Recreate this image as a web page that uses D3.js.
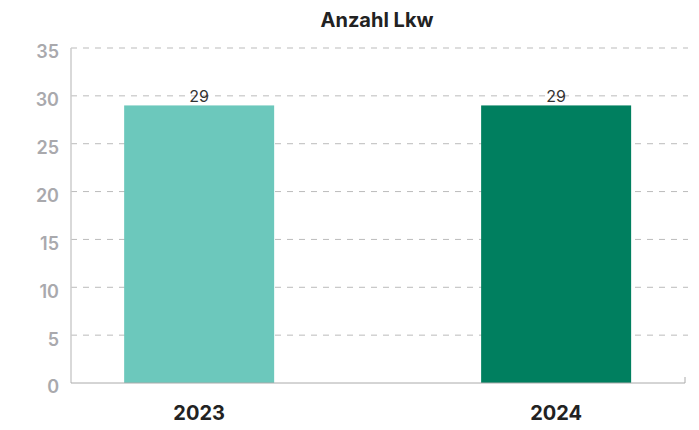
<!DOCTYPE html>
<meta charset="utf-8">
<style>
  body { margin: 0; background: #fff; }
  text { font-family: Inter, "Noto Sans", sans-serif; }
</style>
<body>
<div id="chart"></div>
<script src="https://d3js.org/d3.v7.min.js"></script>
<script>

// data
var years = ["2023", "2024"];
var trucks = [29, 29];
var barColors = ["#6cc8bc", "#007f5f"];
var yTicks = [0, 5, 10, 15, 20, 25, 30, 35];

var W = 699, H = 430;
var margin = {top: 48, right: 14, bottom: 47, left: 71};
var width = W - margin.left - margin.right,
    height = H - margin.top - margin.bottom;

var svg = d3.select("#chart")
  .append("svg")
    .attr("width", W)
    .attr("height", H);

var g = svg.append("g")
    .attr("transform", "translate(" + margin.left + "," + margin.top + ")");

// title
svg.append("text")
  .attr("x", 377)
  .attr("y", 27)
  .attr("text-anchor", "middle")
  .attr("font-size", "20px")
  .attr("font-weight", 700)
  .attr("fill", "#222")
  .text("Anzahl Lkw");

// y scale
var y = d3.scaleLinear()
  .domain([0, 35])
  .range([height, 0]);

// x: category index -> centre
var x = d3.scaleLinear()
  .domain([-0.359, 1.361])
  .range([0, width]);
var barW = 150;

// grid lines
g.selectAll(".grid")
  .data(yTicks.filter(function(d) { return d > 0; }))
  .enter()
  .append("line")
    .attr("x1", 0)
    .attr("x2", width + 3)
    .attr("y1", function(d) { return y(d); })
    .attr("y2", function(d) { return y(d); })
    .attr("stroke", "#bbb")
    .attr("stroke-dasharray", "6,6");

// y labels
g.selectAll(".ylab")
  .data(yTicks)
  .enter()
  .append("text")
    .attr("x", -12)
    .attr("y", function(d) { return y(d) + 4; })
    .attr("dy", "0.36em")
    .attr("text-anchor", "end")
    .attr("font-size", "18px")
    .attr("font-weight", 600)
    .attr("fill", "#a9a9ad")
    .text(function(d) { return d; });

// bars
g.selectAll(".bar")
  .data(trucks)
  .enter()
  .append("rect")
    .attr("x", function(d, i) { return x(i) - barW / 2; })
    .attr("y", function(d) { return y(d); })
    .attr("width", barW)
    .attr("height", function(d) { return height - y(d); })
    .attr("fill", function(d, i) { return barColors[i]; });

// value labels
g.selectAll(".val")
  .data(trucks)
  .enter()
  .append("text")
    .attr("x", function(d, i) { return x(i); })
    .attr("y", function(d) { return y(d) - 3; })
    .attr("text-anchor", "middle")
    .attr("font-size", "16px")
    .attr("fill", "#333")
    .text(function(d) { return d; });

// axes lines
g.append("line")
  .attr("x1", 0).attr("x2", 0)
  .attr("y1", 0).attr("y2", height)
  .attr("stroke", "#ccc")
  .attr("stroke-width", 1.5);

g.append("line")
  .attr("x1", 0).attr("x2", width)
  .attr("y1", height).attr("y2", height)
  .attr("stroke", "#aaa");

g.append("line")
  .attr("x1", width).attr("x2", width)
  .attr("y1", height - 6).attr("y2", height)
  .attr("stroke", "#aaa");

// x labels
g.selectAll(".xlab")
  .data(years)
  .enter()
  .append("text")
    .attr("x", function(d, i) { return x(i); })
    .attr("y", height + 37)
    .attr("text-anchor", "middle")
    .attr("font-size", "20px")
    .attr("font-weight", 700)
    .attr("fill", "#222")
    .text(function(d) { return d; });

</script>
</body>
